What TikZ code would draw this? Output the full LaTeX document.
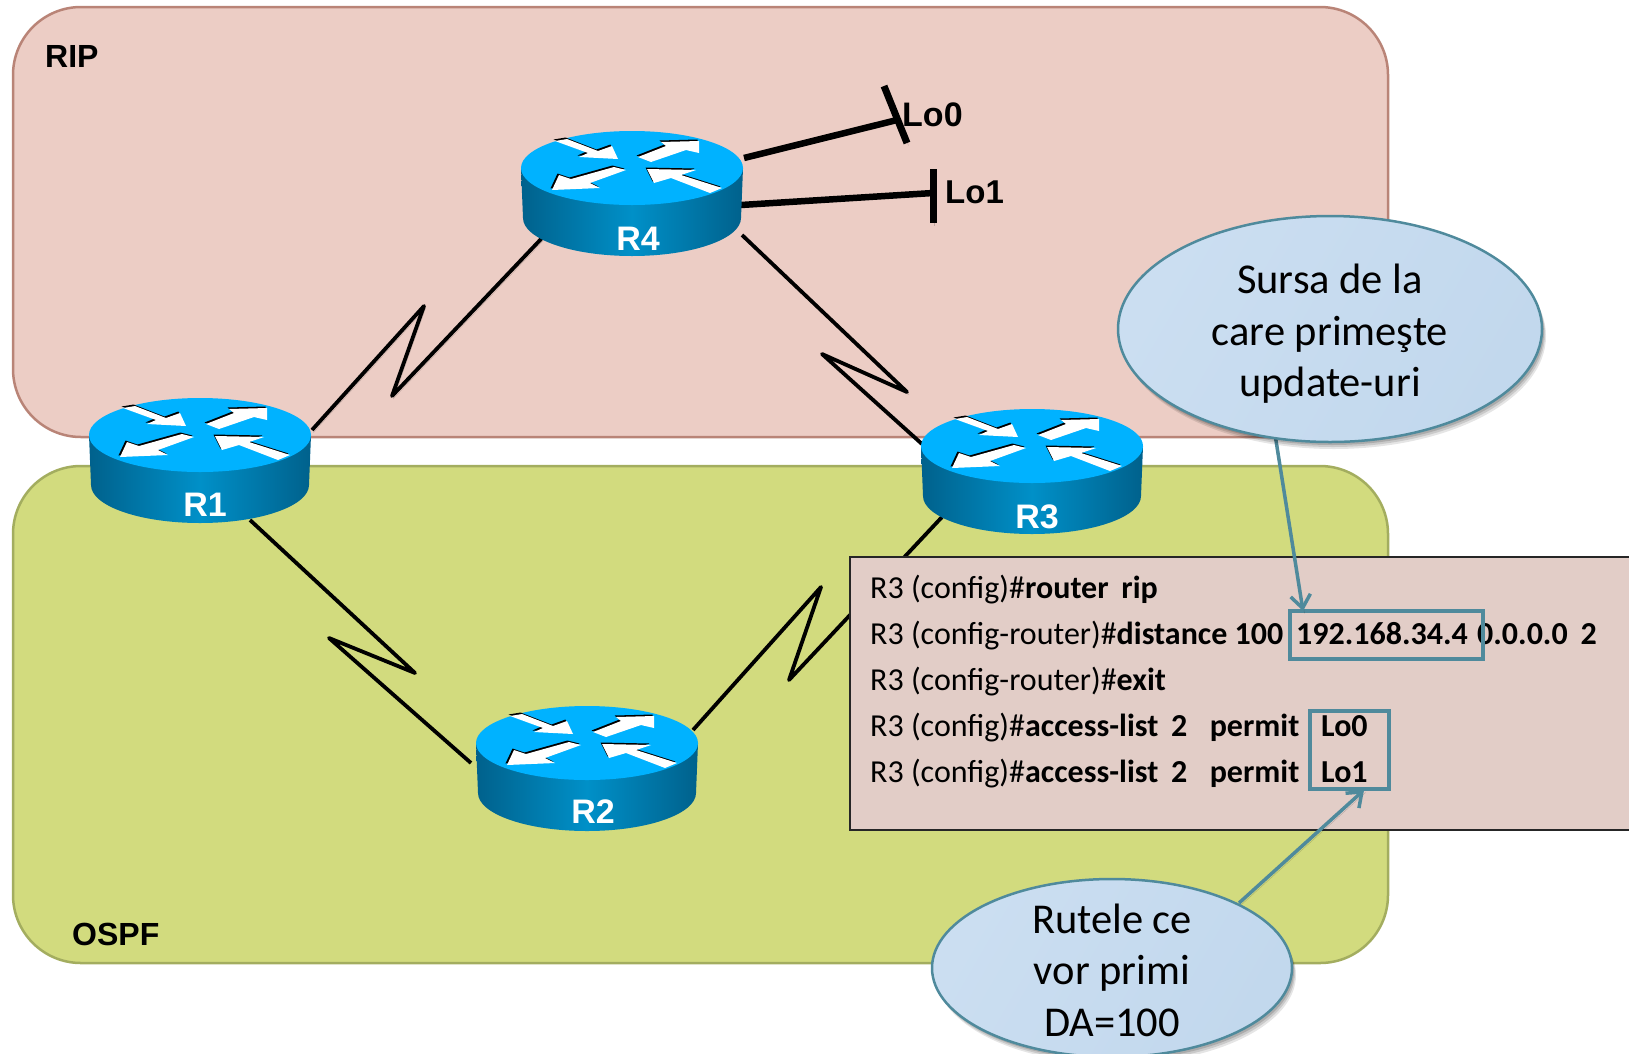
\documentclass[tikz,border=0pt]{standalone}
\usepackage{fontspec}
\setmainfont{Liberation Sans}
\newfontfamily\carlito{Carlito}
\usetikzlibrary{shapes.geometric,shadows,arrows.meta}
\definecolor{ripfill}{HTML}{ECCDC5}
\definecolor{ripline}{HTML}{B98477}
\definecolor{ospffill}{HTML}{D2DB7E}
\definecolor{ospfline}{HTML}{A3AD5F}
\definecolor{boxfill}{HTML}{E2CDC7}
\definecolor{teal}{HTML}{4F8A9C}
\definecolor{routertop}{HTML}{00B2FF}
\definecolor{routerdark}{HTML}{00618C}
\definecolor{routermid}{HTML}{0090C8}
\definecolor{calloutA}{HTML}{CBDEF1}
\definecolor{calloutB}{HTML}{B7D1E9}
\definecolor{calloutC}{HTML}{C2D8ED}
\tikzset{
  region/.style={line width=2.5pt,rounded corners=68pt},
  regionlabel/.style={font=\bfseries\fontsize{32}{32}\selectfont,inner sep=0pt},
  serial/.style={line width=3.8pt,line cap=butt,line join=round,black},
  thick line/.style={line width=6.5pt,black},
  loopbar/.style={line width=7pt,black},
  softshadow/.style={preaction={draw=black!70!ripfill,opacity=.25,transform canvas={shift={(1.5pt,-2.5pt)}}}},
  routername/.style={font=\bfseries\fontsize{34}{34}\selectfont,text=white,inner sep=0pt},
  cli/.style={font=\carlito\fontsize{32}{32}\selectfont,anchor=base west,inner sep=0pt},
  tealbox/.style={draw=teal,line width=3.5pt},
  tealarrow/.style={draw=teal,line width=3.5pt,-{Straight Barb[length=13pt,width=20pt,line width=3.5pt]},
     preaction={draw=black,opacity=.18,-,transform canvas={shift={(1.5pt,-2.5pt)}}}},
  callout/.style={ellipse,draw=teal,line width=2.5pt,inner sep=0pt,
     left color=calloutA,middle color=calloutB,right color=calloutC,shading angle=60,
     drop shadow={shadow xshift=4pt,shadow yshift=-7pt,opacity=.1,fill=black},
     drop shadow={shadow xshift=3pt,shadow yshift=-5pt,opacity=.12,fill=black},
     drop shadow={shadow xshift=2pt,shadow yshift=-3pt,opacity=.15,fill=black}},
  callouttext/.style={align=center,inner sep=0pt,font=\carlito\fontsize{42.5}{51.5}\selectfont},
  routericon/.pic={
    \shade[left color=routerdark,right color=routerdark,middle color=routermid]
      (-111,0) -- (-109,50) arc[start angle=180,end angle=0,x radius=109,y radius=38] -- (111,0) -- cycle;
    \fill[routertop] (0,0) ellipse[x radius=111,y radius=37];
    \foreach \c/\s in {black/-1.5,white/0}{
      \begin{scope}[shift={(\s,\s)}]
      \fill[\c] (-77,-27) -- (-65,-29) -- (-34,-17) -- (-20,-22) -- (-14,-9) -- (-53,-11) -- (-44,-15) -- cycle;
      \fill[\c] (6,-11) -- (34,-22) -- (29,-26) -- (67,-27) -- (67,-15) -- (54,-18) -- (19,-6) -- cycle;
      \fill[\c] (-18,-1) -- (-6,2) -- (-42,15) -- (-32,20) -- (-80,22) -- (-73,7) -- (-61,11) -- cycle;
      \fill[\c] (15,1) -- (64,2) -- (49,7) -- (90,20) -- (78,25) -- (39,10) -- (22,15) -- cycle;
      \end{scope}
    }
  }
}
\begin{document}
\begin{tikzpicture}[x=1pt,y=-1pt]
\useasboundingbox (0,0) rectangle (1629,1053);
\clip (0,0) rectangle (1629,1053);

% regions
\path[region,fill=ospffill,draw=ospfline] (13,466) rectangle (1388,963);
\path[region,fill=ripfill,draw=ripline] (13,7) rectangle (1388,437);
\node[regionlabel,anchor=west] (riplabel) at (45,56) {RIP};
\node[regionlabel,anchor=west] (ospflabel) at (72,934) {OSPF};

% named connector points
\coordinate (r4a) at (744,158);
\coordinate (lo0) at (897,120);
\coordinate (lo0a) at (884,86);
\coordinate (lo0b) at (907,143);
\coordinate (r4b) at (741,205);
\coordinate (lo1) at (933,193);
\coordinate (lo1a) at (933,169);
\coordinate (lo1b) at (933,223);

\coordinate (r1ne) at (312,430);
\coordinate (z1a) at (424,306);
\coordinate (z1b) at (392,396);
\coordinate (r4sw) at (542,238);

\coordinate (r4se) at (742,235);
\coordinate (z2a) at (907,392);
\coordinate (z2b) at (822,354);
\coordinate (r3nw) at (922,444);

\coordinate (r1se) at (250,520);
\coordinate (z3a) at (415,673);
\coordinate (z3b) at (329,638);
\coordinate (r2nw) at (471,763);

\coordinate (r2ne) at (693,730);
\coordinate (z4a) at (821,587);
\coordinate (z4b) at (789,680);
\coordinate (r3sw) at (942,517);

% connectors
\draw[serial,softshadow] (r1ne) -- (z1a) -- (z1b) -- (r4sw);
\draw[serial,softshadow] (r4se) -- (z2a) -- (z2b) -- (r3nw);
\draw[serial] (r1se) -- (z3a) -- (z3b) -- (r2nw);
\draw[serial] (r2ne) -- (z4a) -- (z4b) -- (r3sw);
\draw[thick line,softshadow] (r4a) -- (lo0);
\draw[loopbar,softshadow] (lo0a) -- (lo0b);
\draw[thick line,softshadow] (r4b) -- (lo1);
\draw[loopbar,softshadow] (lo1a) -- (lo1b);
\node[inner sep=0pt,anchor=west,font=\bfseries\fontsize{34}{34}\selectfont] (lo0text) at (902,115) {Lo0};
\node[inner sep=0pt,anchor=west,font=\bfseries\fontsize{33}{33}\selectfont] (lo1text) at (945,192) {Lo1};

% routers
\pic at (632,168) {routericon};
\pic at (200,435) {routericon};
\pic at (1032,446) {routericon};
\pic at (587,743) {routericon};
\node[routername] (R4) at (638,239) {R4};
\node[routername] (R1) at (205,505) {R1};
\node[routername] (R3) at (1037,517) {R3};
\node[routername] (R2) at (593,812) {R2};

% CLI box
\path[fill=boxfill,draw=black!85,line width=2.5pt] (850,557) rectangle (1640,830);
\node[cli] (l1) at (870,598) {R3 (config)\#\textbf{router\hspace{.4em}rip}};
\node[cli] (l2) at (870,644) {R3 (config-router)\#\textbf{distance 100}};
\node[cli] (l2b) at (1296,644) {\textbf{192.168.34.4}};
\node[cli] (l2c) at (1477,644) {\textbf{0.0.0.0\hspace{.4em}2}};
\node[cli] (l3) at (870,690) {R3 (config-router)\#\textbf{exit}};
\node[cli] (l4) at (870,736) {R3 (config)\#\textbf{access-list\hspace{.4em}2\hspace{.7em}permit}};
\node[cli] (l4b) at (1321,736) {\textbf{Lo0}};
\node[cli] (l5) at (870,782) {R3 (config)\#\textbf{access-list\hspace{.4em}2\hspace{.7em}permit}};
\node[cli] (l5b) at (1321,782) {\textbf{Lo1}};
\node[tealbox,inner sep=0pt,minimum width=193pt,minimum height=48pt] (srcbox) at (1386.5,635) {};
\node[tealbox,inner sep=0pt,minimum width=79pt,minimum height=78pt] (lobox) at (1349.5,750) {};

% callout arrows
\coordinate (c1tail) at (1274,428);
\coordinate (c2tail) at (1239,903);
\coordinate (c1tip) at (1303,611);
\coordinate (c2tip) at (1364,790);
\draw[tealarrow] (c1tail) -- (c1tip);
\draw[tealarrow] (c2tail) -- (c2tip);

% callouts
\node[callout,minimum width=424pt,minimum height=226pt] (c1) at (1330,329) {};
\node[callouttext] (c1text) at (1330,334) {Sursa de la\\care primeşte\\update-uri};
\node[callout,minimum width=360pt,minimum height=178pt] (c2) at (1112,968) {};
\node[callouttext] (c2text) at (1112,970) {Rutele ce\\vor primi\\DA=100};
\end{tikzpicture}
\end{document}
